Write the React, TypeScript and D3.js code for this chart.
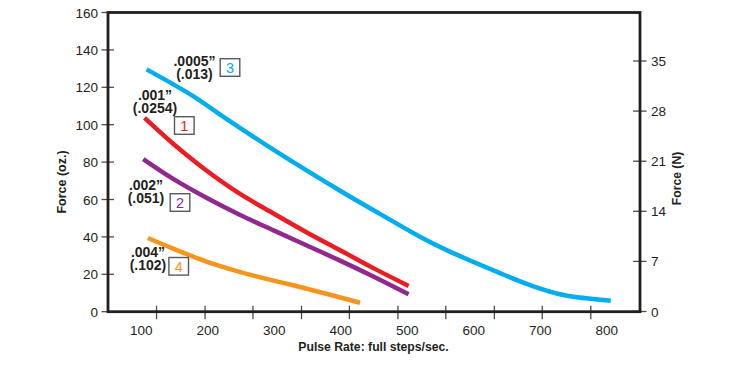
import React from 'react';
import * as d3 from 'd3';

// pulse rate tick labels and the (offset) tick marks on the bottom axis
const rateLabels = [100, 200, 300, 400, 500, 600, 700, 800];
const rateTickMarks = [123, 196, 268, 341, 413, 486, 558, 631, 703, 776];
const ozTicks = [0, 20, 40, 60, 80, 100, 120, 140, 160];
const newtonTicks = [0, 7, 14, 21, 28, 35];

// curve 3: .0005" (.013)
const rate3 = [108, 178, 223, 298, 399, 459, 519, 560, 635, 685, 735, 806];
const force3 = [129.6, 115.3, 104.3, 86.8, 64.7, 52.3, 40.1, 32.8, 21.3, 14.2, 8.9, 5.9];
// curve 1: .001" (.0254)
const rate1 = [105, 148, 198, 248, 299, 349, 399, 449, 502];
const force1 = [103.6, 89.8, 75.5, 63.1, 52.5, 42.4, 32.9, 23.3, 13.8];
// curve 2: .002" (.051)
const rate2 = [103, 148, 198, 248, 299, 349, 399, 449, 502];
const force2 = [81.6, 71.0, 60.9, 51.8, 43.5, 35.4, 27.3, 18.8, 9.3];
// curve 4: .004" (.102)
const rate4 = [110, 148, 198, 248, 299, 349, 429];
const force4 = [39.4, 33.7, 26.8, 21.3, 16.6, 12.3, 4.8];

const curves = [
  {id: '3', color: '#00aeef', rates: rate3, forces: force3, inch: '.0005\u201d', mm: '(.013)'},
  {id: '1', color: '#ed1c24', rates: rate1, forces: force1, inch: '.001\u201d', mm: '(.0254)'},
  {id: '2', color: '#92278f', rates: rate2, forces: force2, inch: '.002\u201d', mm: '(.051)'},
  {id: '4', color: '#f7941d', rates: rate4, forces: force4, inch: '.004\u201d', mm: '(.102)'},
];

// where each label block sits (text centre x, first baseline, box centre)
const labelSpots = {
  '3': {tx: 194.5, ty: 65.5, bx: 230, by: 67.5},
  '1': {tx: 155, ty: 99.5, bx: 184.3, by: 125.5},
  '2': {tx: 146, ty: 189.5, bx: 180, by: 202.5},
  '4': {tx: 148, ty: 256.5, bx: 178.7, by: 266.3},
};

const ink = '#231f20';
const font = "'Liberation Sans', Arial, Helvetica, sans-serif";

export default function App() {
  const x = d3.scaleLinear().domain([50, 850]).range([108, 640]);
  const yOz = d3.scaleLinear().domain([0, 160]).range([311.7, 12.5]);
  const yN = d3.scaleLinear().domain([0, 35]).range([311.5, 61]);

  const left = x(50), right = x(850), top = yOz(160), bottom = yOz(0);

  const line = d3.line<[number, number]>()
    .x(d => x(d[0]))
    .y(d => yOz(d[1]))
    .curve(d3.curveCatmullRom.alpha(0.5));

  return (
    <svg width={729} height={367} style={{position: 'absolute', left: 0, top: 0}} fontFamily={font}>
      <rect width={729} height={367} fill="#fff" />

      {/* series */}
      {curves.map(c => (
        <path
          key={c.id}
          d={line(c.rates.map((r, i) => [r, c.forces[i]] as [number, number])) || ''}
          fill="none"
          stroke={c.color}
          strokeWidth={4.5}
        />
      ))}

      {/* labels: step size in inches over mm, then the numbered box */}
      {curves.map(c => {
        const s = labelSpots[c.id];
        return (
          <g key={'l' + c.id}>
            <text textAnchor="middle" fontSize={14} fontWeight="bold" fill={ink}>
              <tspan x={s.tx} y={s.ty}>{c.inch}</tspan>
              <tspan x={s.tx} y={s.ty + 13.5}>{c.mm}</tspan>
            </text>
            <rect x={s.bx - 9.8} y={s.by - 8.8} width={19.6} height={17.6} fill="#fff" stroke="#58595b" strokeWidth={1.4} />
            <text x={s.bx} y={s.by + 5.2} textAnchor="middle" fontSize={14.5} fill={c.color}>{c.id}</text>
          </g>
        );
      })}

      {/* left ticks */}
      {ozTicks.map(t => (
        <g key={'oz' + t}>
          <line x1={left - 6.5} x2={left + 6} y1={yOz(t)} y2={yOz(t)} stroke="#4d4d4f" strokeWidth={1.3} />
          <text x={left - 10} y={yOz(t) + 5} textAnchor="end" fontSize={13.5} fill={ink}>{t}</text>
        </g>
      ))}

      {/* right ticks */}
      {newtonTicks.map(t => (
        <g key={'n' + t}>
          <line x1={right - 7} x2={right + 6.5} y1={yN(t)} y2={yN(t)} stroke="#4d4d4f" strokeWidth={1.3} />
          <text x={right + 11} y={yN(t) + 5} fontSize={13.5} fill={ink}>{t}</text>
        </g>
      ))}

      {/* bottom ticks */}
      {rateTickMarks.map(t => (
        <line key={'rt' + t} x1={x(t)} x2={x(t)} y1={bottom - 6} y2={bottom + 7.5} stroke="#4d4d4f" strokeWidth={1.3} />
      ))}
      {rateLabels.map(t => (
        <text key={'rl' + t} x={x(t)} y={bottom + 23.5} textAnchor="middle" fontSize={13.5} fill={ink}>{t}</text>
      ))}

      {/* frame */}
      <rect x={left} y={top} width={right - left} height={bottom - top} fill="none" stroke={ink} strokeWidth={2.8} />

      {/* axis titles */}
      <text x={(left + right) / 2 - 0.5} y={351} textAnchor="middle" fontSize={12.2} fontWeight="bold" fill={ink}>
        Pulse Rate: full steps/sec.
      </text>
      <text transform="translate(66,182) rotate(-90)" textAnchor="middle" fontSize={12.5} fontWeight="bold" fill={ink}>
        Force (oz.)
      </text>
      <text transform="translate(680.5,178.5) rotate(-90)" textAnchor="middle" fontSize={12.2} fontWeight="bold" fill={ink}>
        Force (N)
      </text>
    </svg>
  );
}
